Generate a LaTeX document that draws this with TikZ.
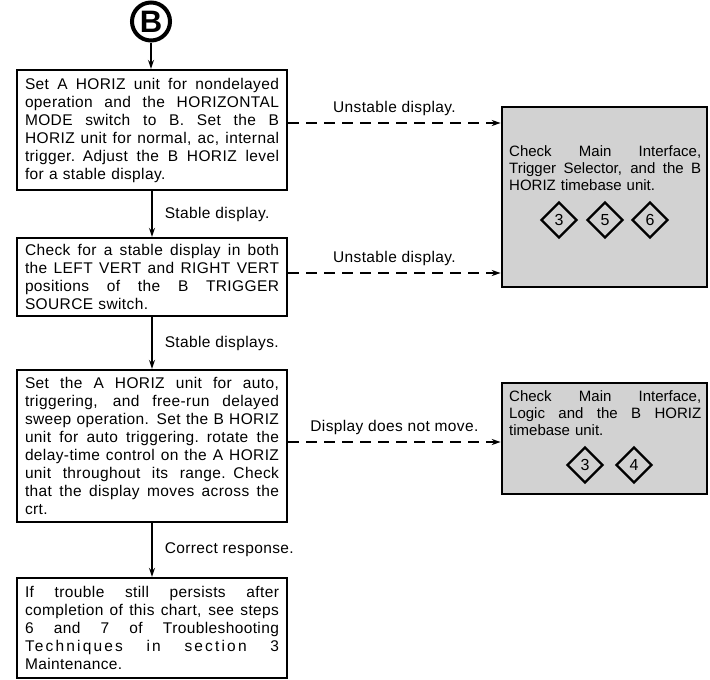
\documentclass[tikz,border=0pt]{standalone}
\usepackage{fontspec}
\setmainfont{Liberation Sans}
\usetikzlibrary{shapes.geometric,arrows.meta}
\newcommand\jline[2]{\makebox[#1][s]{\spaceskip=.27em plus 30em minus .08em\relax #2}\\}
\begin{document}
\begin{tikzpicture}[x=1pt,y=-1pt,
  box/.style={draw, line width=2.2pt, minimum width=270pt, inner sep=0pt,
    text width=254pt, align=left, font=\fontsize{15.5}{18}\selectfont\addfontfeature{LetterSpace=2.5}},
  graybox/.style={draw, line width=2.6pt, fill=gray!35, minimum width=205pt, inner sep=0pt},
  graytext/.style={inner sep=0pt, anchor=north west, text width=192pt, align=left,
    font=\fontsize{15}{17}\selectfont},
  dia/.style={draw, line width=2.2pt, shape=diamond, aspect=1, minimum size=36pt,
    inner sep=0pt, font=\fontsize{16}{16}\selectfont},
  lbl/.style={font=\fontsize{15.5}{18}\selectfont\addfontfeature{LetterSpace=2.5}, inner sep=2pt},
  flow/.style={line width=1.5pt, -{Stealth[length=9pt,width=6pt]}},
  dasharrow/.style={line width=1.6pt, dash pattern=on 11pt off 7pt, -{Stealth[length=9pt,width=6pt]}}
]
\useasboundingbox (0,0) rectangle (710,680);

% start connector
\node[circle, draw, line width=4pt, minimum size=38pt, inner sep=0pt,
  font=\bfseries\fontsize{31}{31}\selectfont] (c) at (151,21.5) {B};

% main column boxes
\node[box, minimum height=120pt] (b1) at (152,130) {%
\jline{254pt}{Set A HORIZ unit for nondelayed}
\jline{254pt}{operation and the HORIZONTAL}
\jline{254pt}{MODE switch to B. Set the B}
\jline{254pt}{HORIZ unit for normal, ac, internal}
\jline{254pt}{trigger. Adjust the B HORIZ level}
for a stable display.};

\node[box, minimum height=78pt] (b2) at (152,277) {%
\jline{254pt}{Check for a stable display in both}
\jline{254pt}{the LEFT VERT and RIGHT VERT}
\jline{254pt}{positions of the B TRIGGER}
SOURCE switch.};

\node[box, minimum height=152pt] (b3) at (152,446) {%
\jline{254pt}{Set the A HORIZ unit for auto,}
\jline{254pt}{triggering, and free-run delayed}
\jline{254pt}{sweep operation. Set the B HORIZ}
\jline{254pt}{unit for auto triggering. rotate the}
\jline{254pt}{delay-time control on the A HORIZ}
\jline{254pt}{unit throughout its range. Check}
\jline{254pt}{that the display moves across the}
crt.};

\node[box, minimum height=100pt] (b4) at (152,628) {%
\jline{254pt}{If trouble still persists after}
\jline{254pt}{completion of this chart, see steps}
\jline{254pt}{6 and 7 of Troubleshooting}
\jline{254pt}{\addfontfeature{LetterSpace=14}Techniques in section 3}
Maintenance.};

% gray boxes
\node[graybox, minimum height=180pt] (g1) at (604.5,197) {};
\node[graytext] (t1) at (509,145) {%
\jline{192pt}{Check Main Interface,}
\jline{192pt}{Trigger Selector, and the B}
HORIZ timebase unit.};
\node[dia] (d13) at (559,220) {3};
\node[dia] (d15) at (605,220) {5};
\node[dia] (d16) at (650,220) {6};

\node[graybox, minimum height=111pt] (g2) at (604.5,438.5) {};
\node[graytext] (t2) at (509,390) {%
\jline{192pt}{Check Main Interface,}
\jline{192pt}{Logic and the B HORIZ}
timebase unit.};
\node[dia] (d23) at (585,465) {3};
\node[dia] (d24) at (634,465) {4};

% main flow
\draw[flow] (c.south) -- (c.south |- b1.north);
\draw[flow] (b1.south) -- node[lbl, right=10pt] {Stable display.} (b2.north);
\draw[flow] (b2.south) -- node[lbl, right=10pt] {Stable displays.} (b3.north);
\draw[flow] (b3.south) -- node[lbl, right=10pt] {Correct response.} (b4.north);

% dashed side connectors
\draw[dasharrow] ([yshift=7pt]b1.east) -- node[lbl, above=4pt] {Unstable display.} ([yshift=7pt]b1.east -| g1.west);
\draw[dasharrow] ([yshift=4pt]b2.east) -- node[lbl, above=4pt] {Unstable display.} ([yshift=4pt]b2.east -| g1.west);
\draw[dasharrow] ([yshift=4pt]b3.east) -- node[lbl, above=4pt] {Display does not move.} ([yshift=4pt]b3.east -| g2.west);
\end{tikzpicture}
\end{document}
